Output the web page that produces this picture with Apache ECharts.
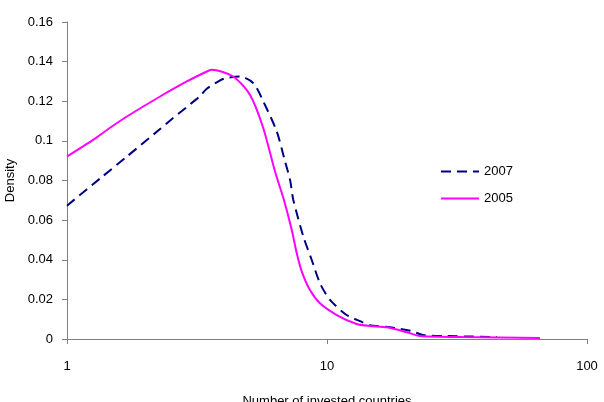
<!DOCTYPE html>
<html>
<head>
<meta charset="utf-8">
<script src="https://cdn.jsdelivr.net/npm/echarts@6/dist/echarts.min.js"></script>
<style>
  html, body { margin: 0; padding: 0; background: #fff; }
  #chart { width: 604px; height: 402px; }
</style>
</head>
<body>
<div id="chart"></div>
<script>
// 数据：投资国家数量（对数轴）与密度
const x2007 = [1, 1.36, 1.7, 2.28, 2.56, 2.89, 3.25, 3.44, 3.88, 4.11, 4.63, 5.21, 5.69, 6.41, 6.9, 7.21, 7.42, 8.11, 8.73, 9.4, 10.27, 11.9, 13.4, 14.6, 17.5, 20.9, 23.4, 28.9, 45];
const y2007 = [0.0673, 0.0817, 0.0921, 0.106, 0.1115, 0.1171, 0.1226, 0.1262, 0.1305, 0.1318, 0.1325, 0.1291, 0.1199, 0.1047, 0.0895, 0.0803, 0.0702, 0.0517, 0.040, 0.0281, 0.0197, 0.0121, 0.009, 0.007, 0.0059, 0.0042, 0.002, 0.0015, 0.001];

const x2005 = [1, 1.26, 1.464, 1.7, 2.28, 2.89, 3.5, 3.6, 4.36, 5.06, 5.69, 6.31, 6.8, 7.32, 7.65, 8.0, 8.6, 9.4, 10.9, 13.0, 14.6, 17.0, 20.3, 22.8, 33.3, 65.9];
const y2005 = [0.0921, 0.1005, 0.1066, 0.1123, 0.1224, 0.130, 0.1354, 0.1359, 0.1325, 0.1232, 0.1064, 0.0845, 0.071, 0.055, 0.0433, 0.034, 0.0247, 0.018, 0.0121, 0.0076, 0.0066, 0.0059, 0.0034, 0.0015, 0.001, 0.0005];

const yTicks = [0, 0.02, 0.04, 0.06, 0.08, 0.1, 0.12, 0.14, 0.16];
const seriesNames = ['2007', '2005'];

function pairs(xs, ys) {
  return xs.map((x, i) => [x, ys[i]]);
}

const chart = echarts.init(document.getElementById('chart'));

const axisStyle = {
  axisLine: { show: true, lineStyle: { color: '#808080', width: 1 } },
  axisTick: { show: true, inside: false, length: 5, lineStyle: { color: '#808080' } },
  splitLine: { show: false }
};

chart.setOption({
  animation: false,
  textStyle: { fontFamily: 'Liberation Sans, Arial, sans-serif' },
  grid: { left: 67, right: 17, top: 22, bottom: 63, outerBoundsMode: 'none', containLabel: false },
  legend: {
    orient: 'vertical',
    left: 435,
    top: 160,
    itemWidth: 38,
    itemHeight: 10,
    itemGap: 14,
    data: seriesNames,
    itemStyle: { opacity: 0 },
    textStyle: { fontSize: 13, color: '#000' }
  },
  xAxis: Object.assign({
    type: 'log',
    logBase: 10,
    min: 1,
    max: 100,
    name: 'Number of invested countries',
    nameLocation: 'middle',
    nameGap: 56,
    nameTextStyle: { fontSize: 13, color: '#000' },
    minorTick: { show: false },
    axisLabel: { fontSize: 13, color: '#000', margin: 21 }
  }, axisStyle),
  yAxis: Object.assign({
    type: 'value',
    min: 0,
    max: 0.16,
    interval: 0.02,
    name: 'Density',
    nameLocation: 'middle',
    nameGap: 50,
    nameTextStyle: { fontSize: 13, color: '#000' },
    axisLabel: {
      fontSize: 13,
      color: '#000',
      margin: 14,
      formatter: v => String(parseFloat(v.toFixed(2)))
    }
  }, axisStyle),
  series: [
    {
      name: '2007',
      type: 'line',
      data: pairs(x2007, y2007),
      smooth: 0.25,
      showSymbol: false,
      symbol: 'none',
      lineStyle: { color: '#000080', width: 2, type: [10, 6] },
      itemStyle: { color: '#000080' }
    },
    {
      name: '2005',
      type: 'line',
      data: pairs(x2005, y2005),
      smooth: 0.25,
      showSymbol: false,
      symbol: 'none',
      lineStyle: { color: '#ff00ff', width: 2 },
      itemStyle: { color: '#ff00ff' }
    }
  ]
});
</script>
</body>
</html>
